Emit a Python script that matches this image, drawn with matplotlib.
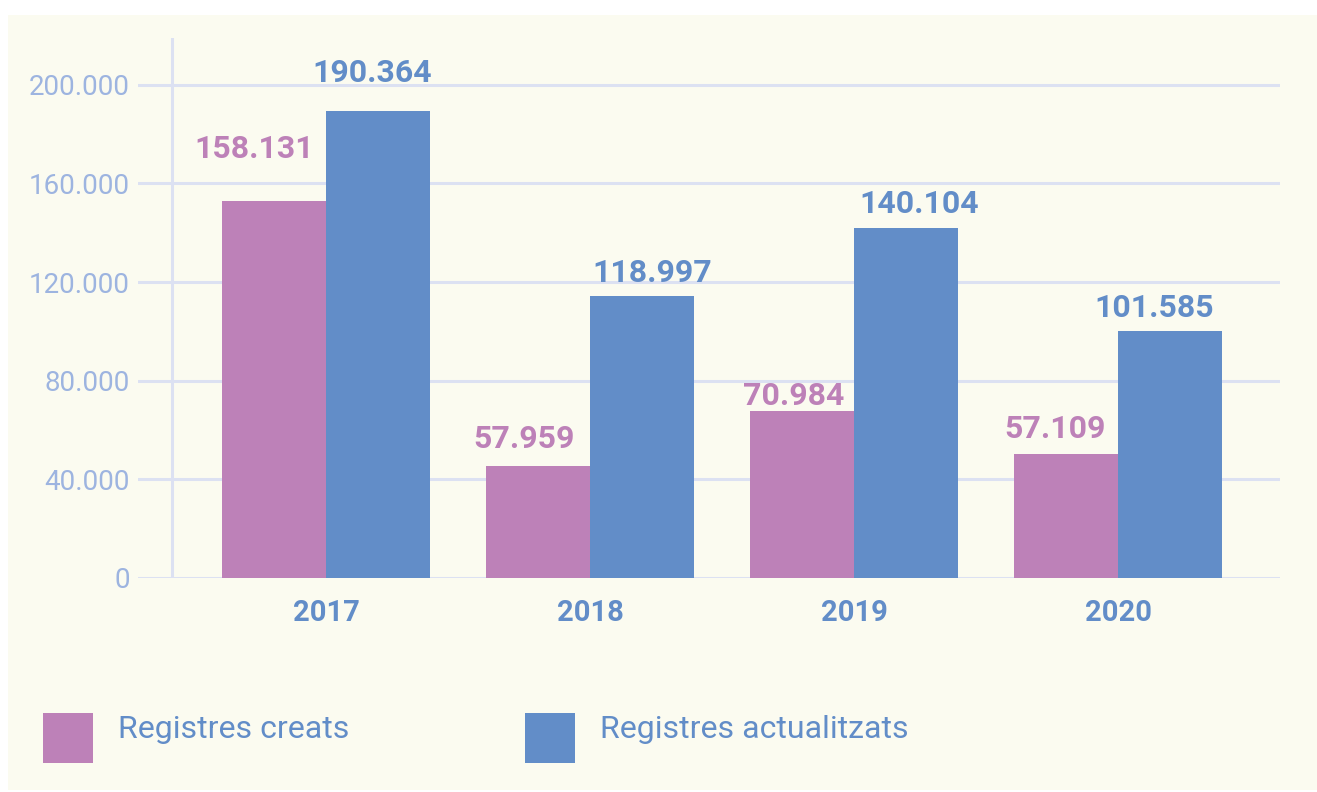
import matplotlib.pyplot as plt
from matplotlib.patches import Rectangle
import numpy as np

# data
years = ['2017', '2018', '2019', '2020']
creats = [152900, 45400, 67700, 50300]        # bar heights as drawn
actualitzats = [189200, 114400, 142000, 100200]
creats_labels = ['158.131', '57.959', '70.984', '57.109']
actualitzats_labels = ['190.364', '118.997', '140.104', '101.585']
yticks = [0, 40000, 80000, 120000, 160000, 200000]
ytick_labels = ['0', '40.000', '80.000', '120.000', '160.000', '200.000']

# label nudges in pixels (dx, gap above bar)
creats_off = [(-20, 43), (-14, 18), (-9, 6), (-11, 16)]
act_off = [(-6, 29), (10, 14), (13, 15), (-16, 14)]

PINK = '#BD81B8'
BLUE = '#628DC8'
TICK = '#9DB4E0'
GRID = '#DCE1F2'
BG = '#FBFBF0'

W, H = 1317, 792
fig = plt.figure(figsize=(W / 100, H / 100), dpi=100, facecolor='white')
fig.patches.append(Rectangle((8 / W, 2 / H), 1 - 8 / W, (777 - 2) / H,
                             transform=fig.transFigure, facecolor=BG,
                             edgecolor='none', zorder=-10))

ax = fig.add_axes([138 / W, 1 - 578 / H, (1280 - 138) / W, (578 - 38) / H])
ax.set_facecolor('none')

x = np.arange(len(years))
w = 0.394
ax.bar(x - w / 2, creats, w, color=PINK, zorder=3)
ax.bar(x + w / 2, actualitzats, w, color=BLUE, zorder=3)

ax.set_xlim(-0.714, 3.612)
ax.set_ylim(0, 219000)

for t in yticks:
    ax.axhline(t, color=GRID, lw=2.2, zorder=1)
ax.axvline(-0.585, color=GRID, lw=2.2, zorder=1)

for s in ax.spines.values():
    s.set_visible(False)

ax.set_yticks(yticks)
ax.set_yticklabels(ytick_labels, fontsize=20, color=TICK, family='Roboto')
ax.tick_params(axis='y', length=0, pad=5.8)
ax.set_xticks(x)
ax.set_xticklabels(years, fontsize=21, color=BLUE, family='Roboto',
                   fontweight='bold')
ax.tick_params(axis='x', length=0, pad=15)

px = 72 / 100
for i in range(len(years)):
    ax.annotate(creats_labels[i], (x[i] - w / 2, creats[i]),
                xytext=(creats_off[i][0] * px, creats_off[i][1] * px),
                textcoords='offset points', ha='center', va='baseline',
                fontsize=23, fontweight='bold', family='Roboto', color=PINK)
    ax.annotate(actualitzats_labels[i], (x[i] + w / 2, actualitzats[i]),
                xytext=(act_off[i][0] * px, act_off[i][1] * px),
                textcoords='offset points', ha='center', va='baseline',
                fontsize=23, fontweight='bold', family='Roboto', color=BLUE)

# legend
for lx, col, txt in [(43, PINK, 'Registres creats'),
                     (525, BLUE, 'Registres actualitzats')]:
    fig.patches.append(Rectangle((lx / W, 1 - 763 / H), 50 / W, 50 / H,
                                 transform=fig.transFigure, facecolor=col,
                                 edgecolor='none'))
    fig.text((lx + 75) / W, 1 - 730 / H, txt, fontsize=23, color=BLUE,
             family='Roboto', va='center', ha='left')

fig.savefig('out.png', dpi=100, facecolor=fig.get_facecolor())
